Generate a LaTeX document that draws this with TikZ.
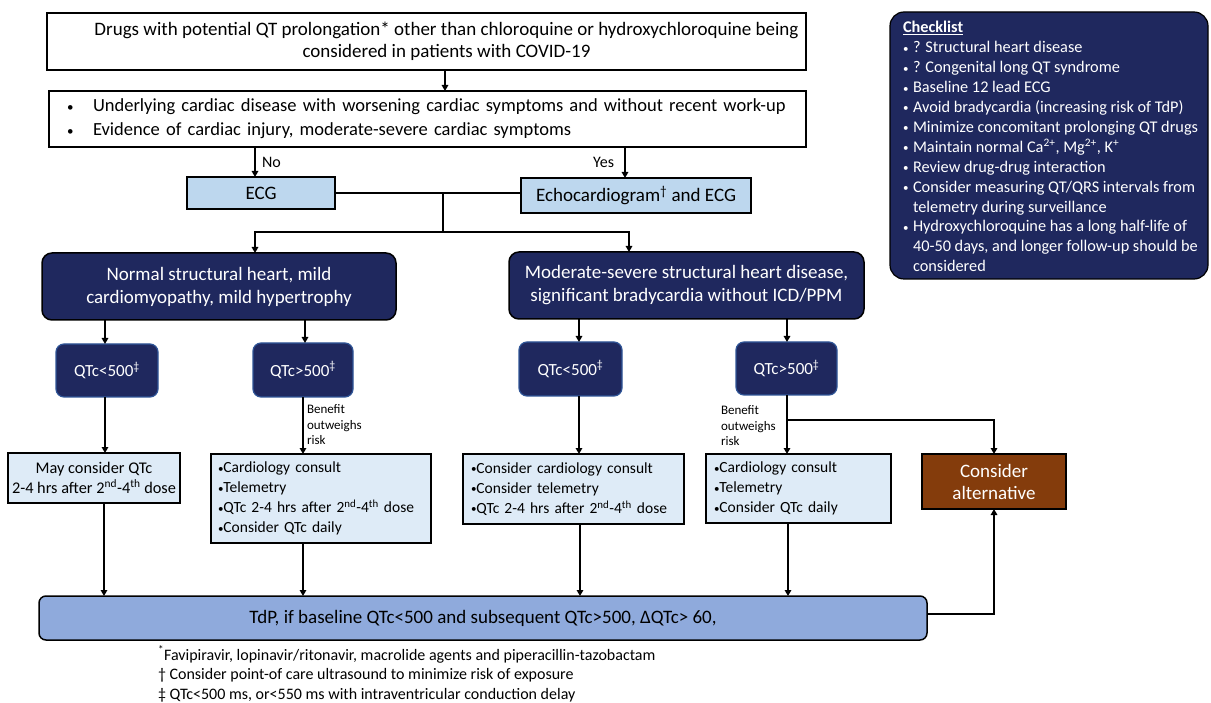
\documentclass[tikz,border=0pt]{standalone}
\usepackage{fontspec}
\setmainfont{Carlito}
\usetikzlibrary{arrows.meta,calc}
\definecolor{navy}{RGB}{31,40,94}
\definecolor{qborder}{RGB}{47,85,151}
\definecolor{ecgfill}{RGB}{189,215,238}
\definecolor{lightfill}{RGB}{222,235,247}
\definecolor{tdpfill}{RGB}{143,170,220}
\definecolor{brownfill}{RGB}{132,60,12}
\newcommand\sbul{\raisebox{0.6pt}{\fontsize{11}{11}\selectfont •}}
\newcommand\mbul{\raisebox{0.3pt}{\fontsize{13}{13}\selectfont •}}
\begin{document}
\begin{tikzpicture}[x=1pt,y=-1pt,
  fs/.style 2 args={font=\fontsize{#1}{#2}\selectfont},
  base/.style={inner sep=0pt, outer sep=0pt},
  wbox/.style={base, draw=black, line width=2pt, fill=white},
  ecgbox/.style={base, draw=black, line width=2pt, fill=ecgfill, fs={19}{22}},
  darkbox/.style={base, draw=black, line width=1.5pt, fill=navy, text=white, rounded corners=10pt, align=center, fs={19}{23}},
  qbox/.style={base, draw=qborder, line width=1.2pt, fill=navy, text=white, rounded corners=8pt, fs={17}{22}},
  lbox/.style={base, draw=black, line width=1.6pt, fill=lightfill, fs={15.5}{20}},
  altbox/.style={base, draw=black, line width=1.6pt, fill=brownfill, text=white, align=center, fs={19}{22}},
  tdpbox/.style={base, draw=black, line width=1.5pt, fill=tdpfill, rounded corners=7pt, fs={19}{22}},
  chkbox/.style={base, draw=black, line width=1.2pt, fill=navy, rounded corners=14pt},
  lab/.style={base, fs={16}{18}},
  small/.style={base, fs={13}{15.5}, align=left},
  ln/.style={line width=2pt},
  arr/.style={line width=2pt, -{Triangle[length=6pt,width=6.5pt]}}
]
\useasboundingbox (0,0) rectangle (1211,703);

% boxes
\node[wbox, minimum width=759, minimum height=57] (top) at (426.5,41.5) {};
\node[base, fs={19}{22}, align=center] (topt) at ($(top.center)+(20,0)$)
  {Drugs with potential QT prolongation* other than chloroquine or hydroxychloroquine being\\considered in patients with COVID-19};

\node[wbox, fs={18.5}{24}, minimum width=757, minimum height=56, inner xsep=15pt, text width=727pt, align=left] (box2) at (427.5,119)
  {\makebox[29pt][l]{\hspace{3pt}\mbul}Underlying cardiac disease with worsening cardiac symptoms and without recent work-up\\
   \makebox[29pt][l]{\hspace{3pt}\mbul}Evidence of cardiac injury, moderate-severe cardiac symptoms};

\node[ecgbox, minimum width=148, minimum height=32] (ecg) at (261,193) {ECG};
\node[ecgbox, minimum width=230, minimum height=35] (echo) at (636,195.5) {Echocardiogram\textsuperscript{†} and ECG};

\node[darkbox, minimum width=354, minimum height=67] (dark1) at (219,286.5)
  {Normal structural heart, mild\\cardiomyopathy, mild hypertrophy};
\node[darkbox, minimum width=355, minimum height=67] (dark2) at (686.5,285.5)
  {Moderate-severe structural heart disease,\\significant bradycardia without ICD/PPM};

\node[qbox, minimum width=102, minimum height=53] (q1) at (107,370.5) {QTc<500\textsuperscript{‡}};
\node[qbox, minimum width=100, minimum height=54] (q2) at (303,370) {QTc>500\textsuperscript{‡}};
\node[qbox, minimum width=103, minimum height=54] (q3) at (570.5,369) {QTc<500\textsuperscript{‡}};
\node[qbox, minimum width=101, minimum height=53] (q4) at (786.5,368.5) {QTc>500\textsuperscript{‡}};

\node[lbox, fs={16.3}{20}, minimum width=172, minimum height=50, align=center] (b1) at (94,478)
  {May consider QTc\\2-4 hrs after 2\textsuperscript{nd}-4\textsuperscript{th} dose};
\node[lbox, minimum width=220, minimum height=89, inner xsep=7pt, text width=206pt, align=left] (b2) at (321,498.5)
  {\sbul Cardiology consult\\\sbul Telemetry\\\sbul QTc 2-4 hrs after 2\textsuperscript{nd}-4\textsuperscript{th} dose\\\sbul Consider QTc daily};
\node[lbox, minimum width=221, minimum height=70, inner xsep=8pt, text width=205pt, align=left] (b3) at (573.5,489)
  {\sbul Consider cardiology consult\\\sbul Consider telemetry\\\sbul QTc 2-4 hrs after 2\textsuperscript{nd}-4\textsuperscript{th} dose};
\node[lbox, minimum width=185, minimum height=69, inner xsep=8pt, text width=169pt, align=left] (b4) at (798.5,488.5)
  {\sbul Cardiology consult\\\sbul Telemetry\\\sbul Consider QTc daily};
\node[altbox, minimum width=144, minimum height=55] (alt) at (994,481.5) {Consider\\alternative};

\node[tdpbox, minimum width=888, minimum height=44] (tdp) at (483,618)
  {TdP, if baseline QTc<500 and subsequent QTc>500, ΔQTc> 60,};

% checklist
\node[chkbox, minimum width=318, minimum height=267] (chk) at (1049,145.5) {};
\node[base, fs={16.3}{19.9}, text=white, align=left, anchor=north west] (chkt) at (903,21.5)
  {\textbf{\underline{Checklist}}\\
   \makebox[10pt][l]{\sbul}? Structural heart disease\\
   \makebox[10pt][l]{\sbul}? Congenital long QT syndrome\\
   \makebox[10pt][l]{\sbul}Baseline 12 lead ECG\\
   \makebox[10pt][l]{\sbul}Avoid bradycardia (increasing risk of TdP)\\
   \makebox[10pt][l]{\sbul}Minimize concomitant prolonging QT drugs\\
   \makebox[10pt][l]{\sbul}Maintain normal Ca\textsuperscript{2+}, Mg\textsuperscript{2+}, K\textsuperscript{+}\\
   \makebox[10pt][l]{\sbul}Review drug-drug interaction\\
   \makebox[10pt][l]{\sbul}Consider measuring QT/QRS intervals from\\
   \hspace*{10pt}telemetry during surveillance\\
   \makebox[10pt][l]{\sbul}Hydroxychloroquine has a long half-life of\\
   \hspace*{10pt}40-50 days, and longer follow-up should be\\
   \hspace*{10pt}considered};

% labels
\node[lab, anchor=west] (no) at (262,162) {No};
\node[lab, anchor=east] (yes) at (614,162) {Yes};
\node[small, anchor=west] (ben1) at (307,425) {Benefit\\outweighs\\risk};
\node[small, anchor=west] (ben2) at (721,426) {Benefit\\outweighs\\risk};

\node[base, fs={16}{19.5}, align=left, anchor=west] (foot) at (158,674)
  {\textsuperscript{*}Favipiravir, lopinavir/ritonavir, macrolide agents and piperacillin-tazobactam\\
   † Consider point-of care ultrasound to minimize risk of exposure\\
   ‡ QTc<500 ms, or<550 ms with intraventricular conduction delay};

% junction coordinates
\coordinate (j1) at (443,193);
\coordinate (j2) at (443,232);
\coordinate (jl) at (255,232);
\coordinate (jr) at (629,232);
\coordinate (yx) at (625,160);
\coordinate (br) at ($(q4.south)+(0.5,25)$);

% connectors
\draw[arr] ($(top.south)+(18.5,0)$) -- ($(box2.north)+(17.5,0)$);
\draw[arr] (box2.south -| jl) -- (ecg.north -| jl);
\draw[arr] (box2.south -| yx) -- (echo.north -| yx);
\draw[ln] (ecg.east) -- (ecg.east -| echo.west);
\draw[ln] (j1) -- (j2);
\draw[arr] (j2) -- (jl) -- (dark1.north -| jl);
\draw[arr] (j2) -- (jr) -- (dark2.north -| jr);

\draw[arr] ($(dark1.south -| q1.north)+(-2,0)$) -- ($(q1.north)+(-2,0)$);
\draw[arr] ($(dark1.south -| q2.north)+(2,0)$) -- ($(q2.north)+(2,0)$);
\draw[arr] ($(dark2.south -| q3.north)+(8.5,0)$) -- ($(q3.north)+(8.5,0)$);
\draw[arr] ($(dark2.south -| q4.north)+(0.5,0)$) -- ($(q4.north)+(0.5,0)$);

\draw[arr] ($(q1.south)+(-2,0)$) -- ($(q1.south |- b1.north)+(-2,0)$);
\draw[arr] (q2.south) -- (q2.south |- b2.north);
\draw[arr] ($(q3.south)+(8.5,0)$) -- ($(q3.south |- b3.north)+(8.5,0)$);
\draw[arr] ($(q4.south)+(0.5,0)$) -- ($(q4.south |- b4.north)+(0.5,0)$);
\draw[arr] (br) -- (br -| alt.north) -- (alt.north);

\draw[arr] ($(q1.south |- b1.south)+(-3,0)$) -- ($(q1.south |- tdp.north)+(-3,0)$);
\draw[arr] (q2.south |- b2.south) -- (q2.south |- tdp.north);
\draw[arr] ($(q3.south |- b3.south)+(9.5,0)$) -- ($(q3.south |- tdp.north)+(9.5,0)$);
\draw[arr] ($(q4.south |- b4.south)+(1.5,0)$) -- ($(q4.south |- tdp.north)+(1.5,0)$);
\draw[arr] ($(tdp.east)+(0,-4)$) -| (alt.south);
\end{tikzpicture}
\end{document}
